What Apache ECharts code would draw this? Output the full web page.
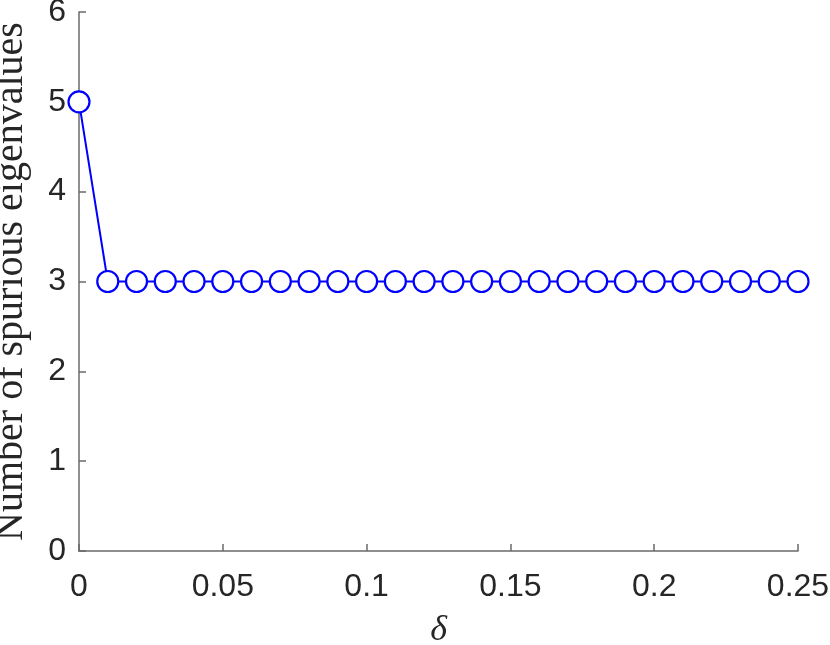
<!DOCTYPE html>
<html>
<head>
<meta charset="utf-8">
<script src="https://cdn.jsdelivr.net/npm/echarts@6/dist/echarts.min.js"></script>
<style>
  html, body { margin: 0; padding: 0; background: #fff; }
  #chart { width: 830px; height: 645px; }
</style>
</head>
<body>
<div id="chart"></div>
<script>
// delta values and number of spurious eigenvalues
var deltas = [0, 0.01, 0.02, 0.03, 0.04, 0.05, 0.06, 0.07, 0.08, 0.09, 0.10, 0.11, 0.12,
    0.13, 0.14, 0.15, 0.16, 0.17, 0.18, 0.19, 0.20, 0.21, 0.22, 0.23, 0.24, 0.25];
var counts = [5, 3, 3, 3, 3, 3, 3, 3, 3, 3, 3, 3, 3,
    3, 3, 3, 3, 3, 3, 3, 3, 3, 3, 3, 3, 3];
var xTicks = [0, 0.05, 0.1, 0.15, 0.2, 0.25];
var yTicks = [0, 1, 2, 3, 4, 5, 6];

var chart = echarts.init(document.getElementById('chart'));

var points = deltas.map(function (d, i) { return [d, counts[i]]; });

var axisColor = '#6a6a6a';

var option = {
    animation: false,
    grid: { left: 79, right: 32, top: 12, bottom: 94, outerBoundsMode: 'none', containLabel: false },
    xAxis: {
        type: 'value',
        min: 0,
        max: 0.25,
        interval: 0.05,
        name: 'δ',
        nameLocation: 'middle',
        nameGap: 62,
        nameMoveOverlap: false,
        nameTextStyle: { fontFamily: 'Liberation Serif', fontStyle: 'italic', fontSize: 36, color: '#262626' },
        axisLine: { show: true, lineStyle: { color: axisColor, width: 1.5 } },
        axisTick: { show: true, inside: true, length: 7, lineStyle: { color: axisColor, width: 1.5 } },
        axisLabel: {
            margin: 20,
            fontFamily: 'Liberation Sans',
            fontSize: 32,
            color: '#262626',
            formatter: function (v) {
                for (var i = 0; i < xTicks.length; i++) {
                    if (Math.abs(v - xTicks[i]) < 1e-9) return String(xTicks[i]);
                }
                return '';
            }
        },
        splitLine: { show: false }
    },
    yAxis: {
        type: 'value',
        min: 0,
        max: 6,
        interval: 1,
        name: 'Number of spurious eigenvalues',
        nameLocation: 'middle',
        nameGap: 48,
        nameMoveOverlap: false,
        nameTextStyle: { fontFamily: 'Liberation Serif', fontSize: 40, color: '#262626' },
        axisLine: { show: true, lineStyle: { color: axisColor, width: 1.5 } },
        axisTick: { show: true, inside: true, length: 7, lineStyle: { color: axisColor, width: 1.5 } },
        axisLabel: {
            margin: 13,
            fontFamily: 'Liberation Sans',
            fontSize: 32,
            color: '#262626',
            formatter: function (v) { return yTicks.indexOf(v) >= 0 ? String(v) : ''; }
        },
        splitLine: { show: false }
    },
    series: [{
        type: 'line',
        data: points,
        symbol: 'circle',
        symbolSize: 21,
        lineStyle: { color: '#0000ff', width: 2 },
        itemStyle: { color: '#ffffff', borderColor: '#0000ff', borderWidth: 2.2 },
        clip: false
    }]
};

chart.setOption(option);
</script>
</body>
</html>
